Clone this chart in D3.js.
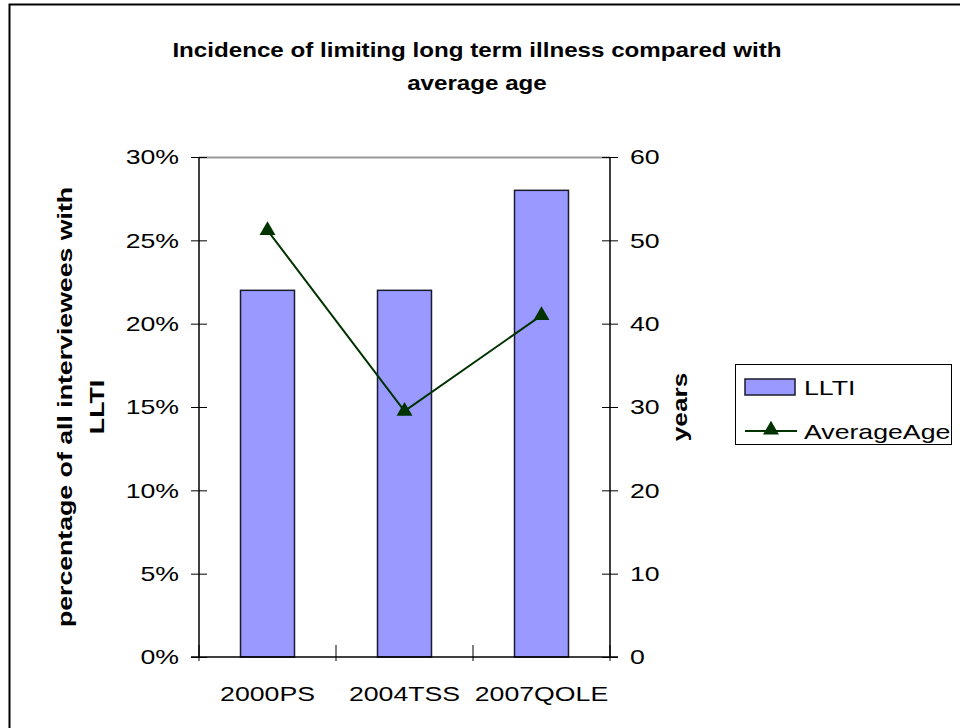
<!DOCTYPE html>
<html lang="en">
<head>
  <meta charset="UTF-8">
  <title>Incidence of limiting long term illness compared with average age</title>
  <script src="https://d3js.org/d3.v7.min.js"></script>
  <style>
    body {
      margin: 0;
      background: #fff;
      font-family: "Liberation Sans", Arial, sans-serif;
    }
    .tick text {
      font-size: 21px;
      fill: #000;
    }
    .bold {
      font-weight: bold;
      font-size: 21px;
    }
  </style>
</head>
<body>
<div id="chart"></div>

<script>
  // data
  const categories = ["2000PS", "2004TSS", "2007QOLE"];
  const llti = [0.22, 0.22, 0.28];
  const averageAge = [51.2, 29.5, 41];
  const leftTicks = [0, 0.05, 0.10, 0.15, 0.20, 0.25, 0.30];
  const rightTicks = [0, 10, 20, 30, 40, 50, 60];

  const width = 960;
  const height = 728;
  const plot = { left: 199, right: 610, top: 157, bottom: 657 };

  const svg = d3.select("#chart").append("svg")
    .attr("width", width)
    .attr("height", height);

  // the original text is drawn a bit wider than the font, so stretch it
  function stretch(sel, k) {
    sel.each(function () {
      const w = this.getComputedTextLength();
      d3.select(this)
        .attr("textLength", w * k)
        .attr("lengthAdjust", "spacingAndGlyphs");
    });
  }

  // outer chart border (runs off the bottom/right of the picture)
  svg.append("rect")
    .attr("x", 9.5).attr("y", 4.5)
    .attr("width", 1000).attr("height", 1000)
    .attr("fill", "none")
    .attr("stroke", "#000")
    .attr("stroke-width", 2);

  const x = d3.scaleBand()
    .domain(categories)
    .range([plot.left, plot.right]);

  const yLeft = d3.scaleLinear().domain([0, 0.30]).range([plot.bottom, plot.top]);
  const yRight = d3.scaleLinear().domain([0, 60]).range([plot.bottom, plot.top]);

  // plot area border (grey top)
  svg.append("path")
    .attr("d", `M${plot.left},${plot.top + 0.5}H${plot.right}`)
    .attr("stroke", "#999")
    .attr("stroke-width", 2);

  // bars
  const barW = x.bandwidth() * 0.394;
  svg.append("g")
    .selectAll("rect")
    .data(categories)
    .join("rect")
      .attr("x", d => x(d) + (x.bandwidth() - barW) / 2)
      .attr("y", (d, i) => yLeft(llti[i]))
      .attr("width", barW)
      .attr("height", (d, i) => plot.bottom - yLeft(llti[i]))
      .attr("fill", "#9999ff")
      .attr("stroke", "#1a1a2e")
      .attr("stroke-width", 1.5);

  // left axis
  const leftAxis = svg.append("g")
    .attr("transform", `translate(${plot.left},0)`)
    .call(d3.axisLeft(yLeft).tickValues(leftTicks).tickFormat(d3.format(".0%")).tickSize(8).tickPadding(12));
  leftAxis.selectAll(".tick line").attr("x2", 8).attr("x1", -8);
  leftAxis.select(".domain").attr("d", `M0,${plot.top}V${plot.bottom}`);

  // right axis
  const rightAxis = svg.append("g")
    .attr("transform", `translate(${plot.right},0)`)
    .call(d3.axisRight(yRight).tickValues(rightTicks).tickSize(8).tickPadding(12));
  rightAxis.selectAll(".tick line").attr("x1", -8).attr("x2", 8);
  rightAxis.select(".domain").attr("d", `M0,${plot.top}V${plot.bottom}`);

  // bottom axis: labels centred, ticks at category boundaries
  const bottomAxis = svg.append("g")
    .attr("transform", `translate(0,${plot.bottom})`)
    .call(d3.axisBottom(x).tickSize(0).tickPadding(29));
  bottomAxis.select(".domain").attr("d", `M${plot.left - 8},0H${plot.right + 8}`);
  bottomAxis.append("g")
    .selectAll("line")
    .data(categories.map(c => x(c)).concat([plot.right]))
    .join("line")
      .attr("x1", d => d).attr("x2", d => d)
      .attr("y1", -12).attr("y2", 4)
      .attr("stroke", "#000");

  svg.selectAll(".domain").attr("stroke", "#000").attr("stroke-width", 1.5);
  svg.selectAll(".tick text")
    .style("font-family", "'Liberation Sans', Arial, sans-serif")
    .call(stretch, 1.27);

  // average age line
  const line = d3.line()
    .x((d, i) => x(categories[i]) + x.bandwidth() / 2)
    .y(d => yRight(d));

  svg.append("path")
    .datum(averageAge)
    .attr("d", line)
    .attr("fill", "none")
    .attr("stroke", "#003300")
    .attr("stroke-width", 2);

  const tri = d3.symbol().type(d3.symbolTriangle).size(110);
  svg.append("g")
    .selectAll("path")
    .data(averageAge)
    .join("path")
      .attr("transform", (d, i) => `translate(${x(categories[i]) + x.bandwidth() / 2},${yRight(d)})`)
      .attr("d", tri)
      .attr("fill", "#003300");

  // title
  const title = svg.append("text")
    .attr("class", "bold")
    .attr("text-anchor", "middle");
  title.append("tspan").attr("x", 477).attr("y", 57).text("Incidence of limiting long term illness compared with");
  title.append("tspan").attr("x", 477).attr("y", 90).text("average age");
  title.selectAll("tspan").call(stretch, 1.15);

  // axis titles
  const yTitle = svg.append("text")
    .attr("class", "bold")
    .attr("text-anchor", "middle")
    .attr("transform", "translate(72,407) rotate(-90)");
  yTitle.append("tspan").attr("x", 0).attr("y", 0).text("percentage of all interviewees with");
  yTitle.append("tspan").attr("x", 0).attr("y", 32).text("LLTI");
  yTitle.selectAll("tspan").call(stretch, 1.27);

  svg.append("text")
    .attr("class", "bold")
    .attr("text-anchor", "middle")
    .attr("transform", "translate(687,407) rotate(-90)")
    .text("years")
    .call(stretch, 1.25);

  // legend
  const legend = svg.append("g");
  legend.append("rect")
    .attr("x", 735.5).attr("y", 364.5)
    .attr("width", 216).attr("height", 80)
    .attr("fill", "#fff")
    .attr("stroke", "#000");
  legend.append("rect")
    .attr("x", 745).attr("y", 379)
    .attr("width", 50).attr("height", 16)
    .attr("fill", "#9999ff")
    .attr("stroke", "#1a1a2e")
    .attr("stroke-width", 1.5);
  legend.append("text")
    .attr("x", 804).attr("y", 395)
    .style("font-size", "21px")
    .text("LLTI")
    .call(stretch, 1.27);
  legend.append("line")
    .attr("x1", 745).attr("x2", 797)
    .attr("y1", 431).attr("y2", 431)
    .attr("stroke", "#003300")
    .attr("stroke-width", 2);
  legend.append("path")
    .attr("transform", "translate(771,430)")
    .attr("d", tri)
    .attr("fill", "#003300");
  legend.append("text")
    .attr("x", 804).attr("y", 439)
    .style("font-size", "21px")
    .text("AverageAge")
    .call(stretch, 1.27);
</script>

</body>
</html>
